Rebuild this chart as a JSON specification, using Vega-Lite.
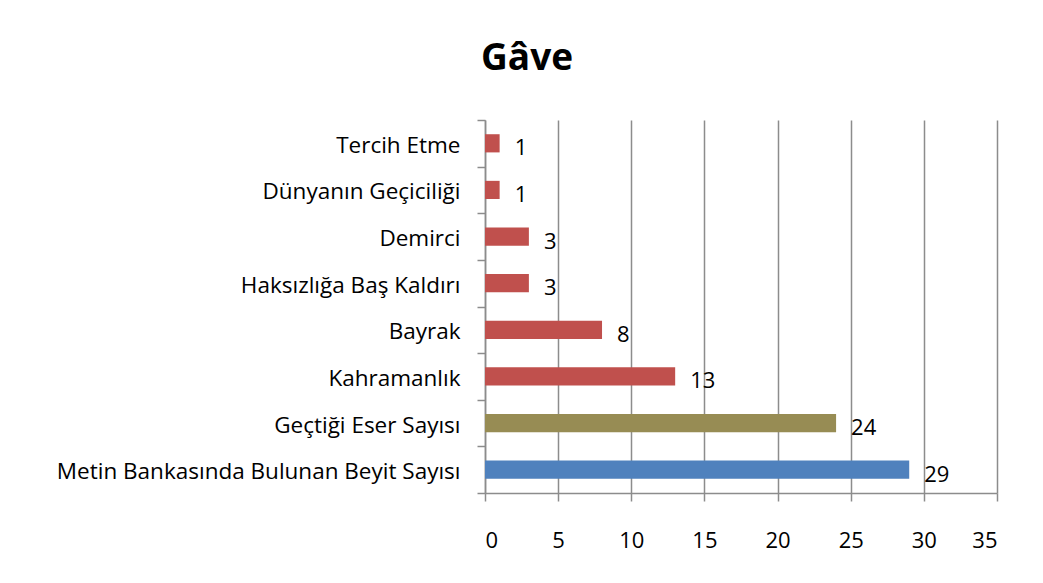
{
  "$schema": "https://vega.github.io/schema/vega-lite/v6.json",
  "autosize": {"type": "none"},
  "width": 512,
  "height": 373,
  "padding": {"left": 485, "top": 120, "right": 46, "bottom": 90},
  "background": "white",
  "title": {
    "text": "Gâve",
    "font": "Open Sans",
    "fontSize": 37,
    "fontWeight": "bold",
    "color": "black",
    "anchor": "middle",
    "frame": "bounds",
    "offset": 31
  },
  "data": {
    "values": [
      {"kategori": "Tercih Etme", "sayi": 1, "tur": "tema"},
      {"kategori": "Dünyanın Geçiciliği", "sayi": 1, "tur": "tema"},
      {"kategori": "Demirci", "sayi": 3, "tur": "tema"},
      {"kategori": "Haksızlığa Baş Kaldırı", "sayi": 3, "tur": "tema"},
      {"kategori": "Bayrak", "sayi": 8, "tur": "tema"},
      {"kategori": "Kahramanlık", "sayi": 13, "tur": "tema"},
      {"kategori": "Geçtiği Eser Sayısı", "sayi": 24, "tur": "eser"},
      {"kategori": "Metin Bankasında Bulunan Beyit Sayısı", "sayi": 29, "tur": "beyit"}
    ]
  },
  "encoding": {
    "y": {
      "field": "kategori",
      "type": "nominal",
      "sort": null,
      "scale": {"paddingInner": 0, "paddingOuter": 0},
      "axis": {
        "title": null,
        "labelFont": "Open Sans",
        "labelFontSize": 22.5,
        "labelColor": "black",
        "labelPadding": 17,
        "labelLimit": 600,
        "labelOffset": 2,
        "tickSize": 8,
        "tickColor": "#8c8c8c",
        "tickWidth": 1.5,
        "domain": true,
        "domainColor": "#8c8c8c",
        "domainWidth": 1.5,
        "tickBand": "extent",
        "grid": false
      }
    },
    "x": {
      "field": "sayi",
      "type": "quantitative",
      "scale": {"domain": [0, 35]},
      "axis": {
        "title": null,
        "values": [0, 5, 10, 15, 20, 25, 30, 35],
        "labelFont": "Open Sans",
        "labelFontSize": 22,
        "labelColor": "black",
        "labelPadding": 29,
        "tickSize": 8,
        "tickColor": "#8c8c8c",
        "tickWidth": 1.5,
        "domainColor": "#8c8c8c",
        "domainWidth": 1.5,
        "grid": true,
        "gridColor": "#8c8c8c",
        "gridWidth": 1.5
      }
    }
  },
  "layer": [
    {
      "mark": {"type": "bar", "height": {"band": 0.39}},
      "encoding": {
        "color": {
          "field": "tur",
          "type": "nominal",
          "scale": {"domain": ["tema", "eser", "beyit"], "range": ["#C0504D", "#978C54", "#4F81BD"]},
          "legend": null
        }
      }
    },
    {
      "mark": {"type": "text", "align": "left", "baseline": "middle", "dx": 15, "dy": 5, "font": "Open Sans", "fontSize": 22, "color": "black"},
      "encoding": {"text": {"field": "sayi", "type": "quantitative"}}
    }
  ],
  "config": {"view": {"stroke": null}}
}
